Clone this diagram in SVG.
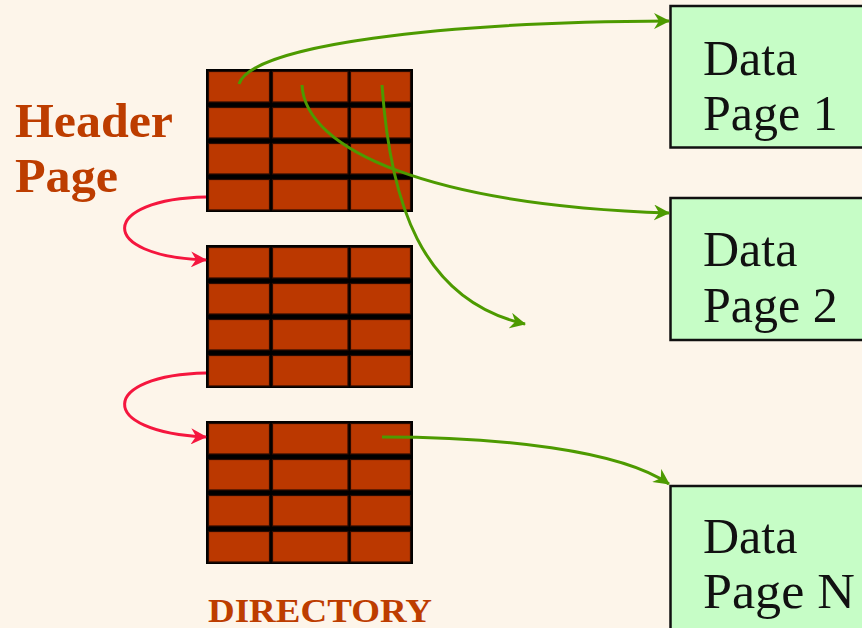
<svg xmlns="http://www.w3.org/2000/svg" xmlns:xlink="http://www.w3.org/1999/xlink" width="862" height="628" viewBox="0 0 862 628">
<style>
.bg{fill:#fdf5ea}
.cell{fill:#bb3800;stroke:#2a0a00;stroke-width:1.2}
.frame{fill:#000}
.dp{fill:#c6fdc6;stroke:#111;stroke-width:2.5}
.dt{font-family:"Liberation Serif",serif;font-size:50px;fill:#111}
.lbl{font-family:"Liberation Serif",serif;font-weight:bold;fill:#bd3d00}
.g{fill:none;stroke:#4d9a00;stroke-width:3}
.r{fill:none;stroke:#f5163e;stroke-width:3}
</style>
<defs>
<marker id="ag" viewBox="0 0 16 16" refX="15" refY="8" markerWidth="16" markerHeight="16" markerUnits="userSpaceOnUse" orient="auto">
<path d="M0,0 L16,8 L0,16 L5,8 z" fill="#4d9a00"/>
</marker>
<marker id="ar" viewBox="0 0 16 16" refX="15" refY="8" markerWidth="16" markerHeight="16" markerUnits="userSpaceOnUse" orient="auto">
<path d="M0,0 L16,8 L0,16 L5,8 z" fill="#f5163e"/>
</marker>
<g id="tbl">
<rect class="frame" x="0" y="0" width="207" height="143"/>
<rect class="cell" x="2.5" y="2.5" width="61" height="30.5"/>
<rect class="cell" x="66.5" y="2.5" width="75.5" height="30.5"/>
<rect class="cell" x="144.5" y="2.5" width="60" height="30.5"/>
<rect class="cell" x="2.5" y="38.5" width="61" height="30.5"/>
<rect class="cell" x="66.5" y="38.5" width="75.5" height="30.5"/>
<rect class="cell" x="144.5" y="38.5" width="60" height="30.5"/>
<rect class="cell" x="2.5" y="74.5" width="61" height="30.5"/>
<rect class="cell" x="66.5" y="74.5" width="75.5" height="30.5"/>
<rect class="cell" x="144.5" y="74.5" width="60" height="30.5"/>
<rect class="cell" x="2.5" y="110.5" width="61" height="30.5"/>
<rect class="cell" x="66.5" y="110.5" width="75.5" height="30.5"/>
<rect class="cell" x="144.5" y="110.5" width="60" height="30.5"/>
</g>
</defs>
<rect class="bg" x="0" y="0" width="862" height="628"/>

<g id="header-label">
<text class="lbl" x="15" y="137" font-size="48" textLength="158" lengthAdjust="spacingAndGlyphs">Header</text>
<text class="lbl" x="15" y="192" font-size="48" textLength="103" lengthAdjust="spacingAndGlyphs">Page</text>
</g>
<g id="directory-label">
<text class="lbl" x="208" y="622" font-size="33" textLength="224" lengthAdjust="spacingAndGlyphs">DIRECTORY</text>
</g>

<g id="dir-page-1"><use xlink:href="#tbl" href="#tbl" x="206" y="69"/></g>
<g id="dir-page-2"><use xlink:href="#tbl" href="#tbl" x="206" y="245"/></g>
<g id="dir-page-3"><use xlink:href="#tbl" href="#tbl" x="206" y="421"/></g>

<g id="data-page-1">
<rect class="dp" x="670.5" y="6" width="220" height="141.5"/>
<text class="dt" x="703" y="75">Data</text>
<text class="dt" x="703" y="130">Page 1</text>
</g>
<g id="data-page-2">
<rect class="dp" x="670.5" y="198" width="220" height="142"/>
<text class="dt" x="703" y="266">Data</text>
<text class="dt" x="703" y="322">Page 2</text>
</g>
<g id="data-page-n">
<rect class="dp" x="670.5" y="486" width="220" height="200"/>
<text class="dt" x="703" y="553">Data</text>
<text class="dt" x="703" y="608" textLength="152" lengthAdjust="spacingAndGlyphs">Page N</text>
</g>

<g id="connectors">
<path class="g" d="M239,84 C252,45 440,22 669,21" marker-end="url(#ag)"/>
<path class="g" d="M302,85 C305,150 430,205 669,213" marker-end="url(#ag)"/>
<path class="g" d="M382,85 C390,200 420,300 525,324" marker-end="url(#ag)"/>
<path class="g" d="M382,437 C500,437 620,450 669,484" marker-end="url(#ag)"/>
<path class="r" d="M206,197 C100,199 95,256 206,260" marker-end="url(#ar)"/>
<path class="r" d="M206,373 C100,375 95,432 206,437" marker-end="url(#ar)"/>
</g>
</svg>
